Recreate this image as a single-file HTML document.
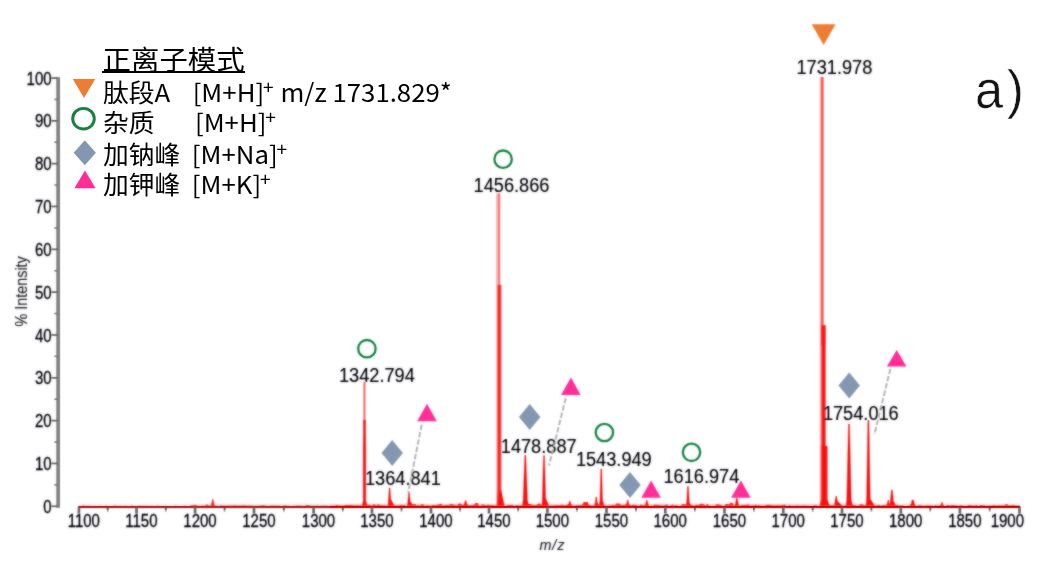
<!DOCTYPE html>
<html lang="zh"><head><meta charset="utf-8"><title>MALDI spectrum</title>
<style>
html,body{margin:0;padding:0;background:#fff;}
body{width:1048px;height:584px;position:relative;overflow:hidden;font-family:"Liberation Sans","Noto Sans CJK SC",sans-serif;}
svg{position:absolute;left:0;top:0;}
.tk{font-family:"Liberation Sans",sans-serif;font-size:15.0px;fill:#26262e;stroke:#26262e;stroke-width:0.22px;}
.pk{font-family:"Liberation Sans",sans-serif;font-size:18.2px;fill:#26262c;stroke:#2a2a32;stroke-width:0.1px;}
.ax{font-family:"Liberation Sans",sans-serif;font-size:14.4px;fill:#404048;stroke:#404048;stroke-width:0.1px;}
.lg{position:absolute;left:103.2px;white-space:pre;color:#000;font-family:"Noto Sans CJK SC","Liberation Sans",sans-serif;font-size:25.6px;line-height:30px;transform:scale(1.008,0.965);transform-origin:0 100%;}
.lg sup{font-size:0.74em;line-height:0;vertical-align:baseline;position:relative;top:-0.40em;margin-left:-1.2px;}
.ttl{font-size:28.4px;line-height:30px;transform:scale(1,0.953);transform-origin:0 100%;}
.ul{position:absolute;left:101.9px;top:70.9px;width:143px;height:2.4px;background:#000;}
.fig{position:absolute;left:974.8px;top:58.7px;font-family:"Liberation Sans",sans-serif;font-size:54px;line-height:60px;color:#141414;-webkit-text-stroke:0.5px #fff;letter-spacing:4.2px;transform:scale(0.935,1);transform-origin:0 0;}
</style></head><body>
<svg width="1048" height="584" viewBox="0 0 1048 584">
<defs><filter id="b" x="-5%" y="-20%" width="110%" height="140%"><feGaussianBlur stdDeviation="0.8" result="g"/><feComposite in="g" in2="SourceGraphic" operator="arithmetic" k1="0" k2="0.7" k3="0.5" k4="0"/></filter>
<filter id="b2" x="-5%" y="-5%" width="110%" height="110%"><feGaussianBlur stdDeviation="0.8" result="g"/><feComposite in="g" in2="SourceGraphic" operator="arithmetic" k1="0" k2="0.5" k3="0.5" k4="0"/></filter></defs>
<g filter="url(#b2)">
<rect x="56.3" y="77.2" width="3.7" height="430.6" fill="#808080"/><rect x="51.4" y="505.4" width="6.5" height="1.7" fill="#606060"/><rect x="54.4" y="484.1" width="3" height="1.5" fill="#707070"/><rect x="51.4" y="462.6" width="6.5" height="1.7" fill="#606060"/><rect x="54.4" y="441.3" width="3" height="1.5" fill="#707070"/><rect x="51.4" y="419.8" width="6.5" height="1.7" fill="#606060"/><rect x="54.4" y="398.5" width="3" height="1.5" fill="#707070"/><rect x="51.4" y="377.0" width="6.5" height="1.7" fill="#606060"/><rect x="54.4" y="355.6" width="3" height="1.5" fill="#707070"/><rect x="51.4" y="334.1" width="6.5" height="1.7" fill="#606060"/><rect x="54.4" y="312.8" width="3" height="1.5" fill="#707070"/><rect x="51.4" y="291.3" width="6.5" height="1.7" fill="#606060"/><rect x="54.4" y="270.0" width="3" height="1.5" fill="#707070"/><rect x="51.4" y="248.5" width="6.5" height="1.7" fill="#606060"/><rect x="54.4" y="227.2" width="3" height="1.5" fill="#707070"/><rect x="51.4" y="205.6" width="6.5" height="1.7" fill="#606060"/><rect x="54.4" y="184.3" width="3" height="1.5" fill="#707070"/><rect x="51.4" y="162.8" width="6.5" height="1.7" fill="#606060"/><rect x="54.4" y="141.5" width="3" height="1.5" fill="#707070"/><rect x="51.4" y="120.0" width="6.5" height="1.7" fill="#606060"/><rect x="54.4" y="98.7" width="3" height="1.5" fill="#707070"/><rect x="51.4" y="77.2" width="6.5" height="1.7" fill="#606060"/>
</g>
<g filter="url(#b2)">
<rect x="363.4" y="382.0" width="2.1" height="42.0" fill="#f96a6a"/><rect x="496.0" y="193.6" width="2.0" height="312.4" fill="#fcb8b8"/><rect x="498.0" y="193.4" width="2.2" height="92.6" fill="#f87474"/><rect x="500.2" y="285.0" width="1.8" height="215.0" fill="#fcc4c4"/><rect x="819.7" y="77.0" width="1.2" height="429.0" fill="#fbb4b4"/><rect x="820.9" y="77.0" width="2.8" height="249.0" fill="#f85c5c"/><rect x="820.9" y="325.4" width="4.7" height="19.6" fill="#f85454"/><rect x="825.3" y="326.0" width="0.9" height="121.0" fill="#fbb4b4"/><rect x="827.2" y="447.0" width="0.8" height="53.0" fill="#fbb4b4"/>
<rect x="78.5" y="504.1" width="111.5" height="2" fill="#ff2a2a" opacity="0.10"/><rect x="190.0" y="504.1" width="140.0" height="2" fill="#ff2a2a" opacity="0.16"/><rect x="330.0" y="504.1" width="20.0" height="2" fill="#ff2a2a" opacity="0.22"/><rect x="350.0" y="504.1" width="510.0" height="2" fill="#ff2a2a" opacity="0.28"/><rect x="860.0" y="504.1" width="75.0" height="2" fill="#ff2a2a" opacity="0.22"/><rect x="935.0" y="504.1" width="85.0" height="2" fill="#ff2a2a" opacity="0.16"/>
<path d="M79,506 L79.5,505.9 L81.1,505.9 L82.6,505.4 L84.0,505.4 L85.1,505.7 L86.2,505.7 L88.1,505.8 L89.6,505.8 L90.6,505.8 L91.8,505.9 L93.0,506.0 L94.1,505.7 L95.7,505.9 L97.6,505.9 L99.6,505.7 L101.3,505.7 L102.5,506.0 L103.7,505.9 L105.5,505.8 L107.3,505.8 L109.1,506.0 L110.8,505.9 L112.6,505.9 L114.5,505.6 L116.2,505.6 L117.3,505.9 L118.2,505.9 L119.3,505.8 L121.3,505.8 L122.4,505.9 L124.7,505.7 L126.0,505.7 L128.2,505.9 L129.3,505.9 L130.6,505.8 L131.4,505.8 L133.0,505.7 L135.3,505.9 L136.4,506.0 L138.6,505.8 L140.3,505.8 L141.4,505.7 L142.7,505.7 L143.7,505.8 L144.6,505.8 L146.8,505.8 L147.9,505.8 L149.4,505.9 L151.1,505.8 L152.0,505.8 L153.5,505.9 L155.6,505.9 L157.4,505.6 L158.4,505.8 L159.8,505.9 L161.7,505.9 L163.4,505.8 L165.8,506.0 L167.9,505.9 L168.8,505.9 L169.8,505.9 L171.6,505.9 L173.9,505.9 L175.4,505.7 L176.5,505.7 L177.8,506.0 L179.5,506.0 L181.6,506.0 L183.9,505.8 L185.8,505.8 L187.3,505.9 L188.8,505.9 L189.8,505.9 L191.0,505.3 L192.2,505.3 L193.8,505.3 L195.0,504.5 L196.7,505.4 L198.0,505.8 L199.1,505.8 L201.0,505.7 L202.5,505.4 L204.7,505.8 L206.5,504.6 L207.3,504.6 L209.4,505.5 L210.8,505.4 L212.9,505.4 L214.8,505.4 L216.5,505.5 L218.8,506.0 L220.8,505.5 L222.4,505.3 L223.8,505.8 L226.0,505.6 L227.1,505.6 L228.2,505.6 L230.5,505.4 L232.5,505.4 L234.9,505.3 L236.4,505.5 L237.8,505.5 L239.5,505.6 L240.8,505.6 L242.8,505.3 L244.1,505.3 L245.9,505.6 L248.1,505.6 L250.2,505.5 L252.1,505.5 L253.5,505.7 L255.6,505.7 L257.7,505.7 L259.7,505.5 L261.5,505.5 L263.1,505.1 L264.2,505.4 L266.2,505.4 L267.8,505.9 L268.8,505.9 L270.5,505.4 L271.6,505.4 L272.6,505.6 L274.0,505.4 L275.3,505.4 L276.3,505.7 L277.6,505.6 L278.8,505.5 L280.3,505.9 L282.7,506.0 L284.3,505.2 L285.2,505.2 L286.3,505.7 L288.3,505.7 L290.5,505.9 L291.7,505.9 L293.1,505.8 L295.2,505.8 L297.6,505.6 L299.7,505.6 L301.2,505.7 L302.7,505.7 L304.0,505.7 L305.1,505.7 L306.3,505.1 L307.9,505.1 L309.6,505.6 L311.6,505.5 L312.8,505.9 L313.9,505.4 L316.0,505.8 L317.7,505.4 L320.0,505.9 L321.3,505.5 L323.3,505.5 L325.1,505.6 L327.0,505.7 L328.7,505.7 L329.8,505.7 L331.6,505.7 L332.9,505.8 L334.6,505.8 L336.5,505.1 L337.5,505.1 L338.8,505.5 L339.7,505.5 L341.1,505.8 L343.0,505.6 L344.0,505.6 L346.3,504.9 L348.6,505.0 L350.2,505.1 L352.3,505.1 L353.6,505.5 L354.8,505.4 L357.0,505.3 L357.9,505.3 L358.9,505.6 L360.1,505.6 L361.3,505.5 L363.2,505.5 L365.3,504.7 L367.3,504.7 L369.5,504.7 L371.3,505.5 L372.5,505.5 L373.6,504.1 L375.0,504.4 L376.2,505.6 L378.1,504.0 L379.9,505.2 L381.7,505.2 L383.6,505.4 L385.7,505.4 L386.9,505.8 L389.3,505.1 L390.7,505.8 L391.8,505.8 L394.0,505.4 L396.1,505.4 L398.5,505.5 L399.8,505.5 L400.9,505.1 L402.5,505.1 L404.8,505.2 L406.3,505.9 L407.5,505.9 L409.8,504.6 L411.1,504.6 L412.5,504.6 L414.1,503.9 L415.0,503.9 L417.0,505.5 L418.6,505.5 L419.6,505.6 L421.9,504.2 L423.0,504.2 L424.7,505.8 L426.8,505.4 L427.8,505.1 L429.2,505.7 L430.9,505.7 L432.9,505.0 L434.4,505.0 L435.5,505.4 L437.7,504.5 L438.8,504.5 L441.2,503.4 L442.8,505.7 L445.1,505.1 L446.8,505.1 L448.1,505.0 L449.8,504.7 L451.1,503.5 L452.5,504.4 L453.9,504.4 L455.9,505.4 L457.2,505.4 L458.5,503.6 L460.6,503.6 L462.8,505.2 L465.1,505.4 L466.2,504.8 L467.5,504.8 L468.9,505.2 L471.1,505.2 L472.3,505.1 L473.6,505.1 L475.7,503.0 L477.8,503.0 L479.1,505.8 L480.1,505.8 L481.0,505.8 L482.0,504.5 L483.9,504.5 L486.1,505.5 L487.5,504.7 L488.7,504.7 L489.7,505.1 L490.7,505.3 L492.9,505.3 L495.2,505.6 L497.3,505.6 L498.6,504.8 L500.7,505.0 L502.0,505.0 L504.1,505.9 L506.0,505.9 L507.3,505.0 L509.5,505.0 L511.7,505.1 L512.6,505.1 L513.8,505.8 L515.2,505.8 L517.0,505.2 L519.2,505.4 L520.8,505.4 L522.3,505.5 L523.5,505.5 L524.8,504.4 L526.2,504.4 L528.6,504.0 L530.5,504.0 L532.4,504.9 L534.6,505.2 L535.8,505.2 L537.0,504.5 L538.5,503.5 L539.7,503.5 L541.7,504.9 L543.1,505.3 L544.1,505.3 L545.5,506.0 L546.8,506.0 L548.7,505.7 L549.8,505.7 L551.9,505.4 L553.5,505.4 L555.4,505.2 L557.1,505.2 L558.7,505.3 L560.3,505.3 L561.8,504.6 L564.2,505.5 L565.0,505.5 L567.3,504.8 L568.8,504.6 L570.4,504.6 L572.3,505.7 L574.0,505.7 L575.5,505.6 L577.8,505.2 L579.7,505.2 L582.1,505.1 L583.8,502.1 L585.8,502.1 L587.7,505.0 L589.1,505.0 L591.2,505.5 L592.3,505.5 L593.9,505.8 L595.7,505.8 L598.0,503.2 L599.0,505.0 L600.9,505.5 L602.5,505.5 L604.1,505.6 L605.8,505.6 L607.5,505.8 L609.6,505.6 L610.5,505.6 L612.1,505.1 L613.7,505.1 L614.7,505.4 L616.4,503.4 L618.6,503.4 L619.8,503.8 L621.0,505.1 L623.2,505.1 L625.4,504.6 L626.7,504.6 L628.8,504.2 L630.2,505.0 L631.5,505.5 L632.9,504.8 L634.9,505.1 L636.8,505.1 L637.9,505.9 L639.7,505.4 L640.9,504.2 L642.2,505.2 L643.7,505.1 L644.8,505.9 L646.5,505.9 L648.9,506.0 L649.7,506.0 L650.9,505.7 L652.4,505.7 L654.7,504.8 L655.5,504.8 L657.0,504.8 L658.1,504.8 L659.9,505.6 L660.9,505.6 L663.2,505.4 L664.2,505.4 L666.1,504.4 L666.9,504.4 L668.8,506.0 L670.5,506.0 L672.1,504.2 L673.2,505.6 L674.3,505.6 L675.4,505.2 L676.6,505.3 L678.3,506.0 L679.5,506.0 L680.6,505.9 L682.6,503.9 L684.4,503.9 L686.0,505.1 L687.2,505.1 L688.2,505.7 L690.2,504.2 L691.8,505.0 L694.2,506.0 L695.2,505.2 L697.2,504.7 L698.7,505.1 L700.6,503.7 L702.6,503.7 L704.6,504.7 L706.0,505.7 L707.1,503.6 L708.6,505.4 L709.5,505.4 L711.4,505.9 L713.1,505.9 L714.6,506.0 L716.8,503.9 L718.0,504.6 L718.8,504.6 L721.0,504.8 L722.4,505.9 L724.3,505.9 L725.6,504.0 L727.4,504.0 L728.9,504.5 L730.6,502.8 L732.5,502.8 L734.0,505.9 L735.3,505.0 L736.1,505.0 L737.3,505.4 L738.3,506.0 L739.8,506.0 L741.3,505.1 L743.4,505.1 L744.8,504.9 L746.5,504.9 L747.6,504.2 L749.7,505.6 L751.8,505.6 L752.9,505.6 L754.0,505.6 L755.4,504.5 L756.7,505.6 L758.8,505.2 L759.8,505.2 L762.0,505.9 L763.2,505.7 L764.6,505.7 L766.9,504.7 L768.1,504.7 L770.1,505.0 L771.3,505.0 L773.1,505.5 L774.1,505.5 L776.5,505.2 L777.8,505.2 L780.2,505.5 L781.8,504.9 L783.2,504.9 L784.2,504.3 L786.2,505.9 L787.8,505.9 L789.4,505.2 L791.0,505.8 L792.8,505.8 L795.0,505.7 L797.2,505.6 L798.9,505.6 L800.1,506.0 L802.1,505.5 L803.7,505.5 L805.3,505.5 L806.6,505.8 L808.7,505.8 L809.8,505.9 L811.7,505.9 L814.0,505.5 L816.0,505.2 L818.1,505.9 L819.9,505.9 L821.5,505.3 L823.6,505.3 L825.1,504.7 L826.5,504.7 L828.1,505.0 L829.3,505.0 L830.6,505.3 L832.5,505.3 L834.1,505.2 L835.9,505.2 L838.1,505.7 L840.2,505.7 L841.7,505.7 L843.9,505.7 L845.8,505.7 L847.3,505.1 L848.7,505.1 L850.0,503.2 L851.2,503.2 L852.6,505.0 L854.3,505.0 L856.2,505.8 L858.2,505.8 L860.4,504.3 L862.4,504.3 L864.3,505.2 L865.6,505.3 L866.8,505.3 L868.8,505.5 L870.1,505.0 L872.2,505.9 L873.4,505.6 L875.5,505.6 L876.6,505.6 L877.8,504.9 L879.3,504.9 L880.5,506.0 L881.5,505.3 L883.1,505.3 L885.0,505.0 L886.1,505.8 L887.1,506.0 L889.3,506.0 L891.0,505.9 L892.1,505.5 L893.6,505.9 L895.7,505.2 L897.8,504.7 L899.4,505.8 L901.3,505.3 L902.5,505.3 L904.0,506.0 L905.8,506.0 L908.0,505.7 L909.2,505.7 L910.2,504.8 L912.3,504.1 L914.2,505.9 L915.5,505.9 L917.4,505.9 L918.5,505.2 L920.4,505.2 L922.5,505.7 L923.8,505.7 L925.4,505.5 L926.5,505.5 L928.3,505.4 L929.1,505.4 L930.6,505.6 L932.0,505.6 L933.2,506.0 L934.2,506.0 L935.2,504.8 L936.3,505.5 L937.1,505.5 L939.1,505.4 L941.0,505.4 L943.0,504.8 L944.1,505.9 L945.5,506.0 L946.5,504.9 L947.7,504.9 L949.8,505.4 L951.5,505.1 L953.2,505.1 L954.4,505.3 L956.1,505.3 L958.0,505.8 L960.1,505.3 L961.0,505.3 L963.3,505.7 L965.7,505.8 L967.1,505.7 L969.0,505.1 L970.4,505.1 L972.5,505.5 L974.5,505.5 L976.6,505.1 L978.7,505.9 L980.2,505.0 L982.1,505.0 L984.4,505.2 L986.3,505.8 L988.4,505.4 L990.4,505.4 L992.5,505.4 L994.2,504.9 L995.5,505.4 L997.0,505.4 L998.6,505.2 L999.5,505.2 L1001.9,505.6 L1003.1,505.3 L1004.6,505.3 L1005.6,504.2 L1007.2,504.2 L1008.6,505.2 L1010.7,505.2 L1012.8,505.0 L1013.9,505.0 L1015.1,505.5 L1016.7,505.5 L1018.9,505.5 L1020.6,505.5 L1019.5,506 Z" fill="#fc2222"/>
<path d="M210.9,506.0 L211.7,504.0 L212.5,499.6 L213.2,499.6 L213.9,504.0 L214.7,506.0 Z M362.2,506.0 L363.2,501.0 L363.2,450.0 L363.5,420.0 L365.5,420.0 L365.8,450.0 L365.8,501.0 L367.2,506.0 Z M388.0,506.0 L388.5,499.0 L389.2,488.0 L390.0,488.0 L390.7,499.0 L394.2,506.0 Z M407.4,506.0 L407.9,501.0 L408.6,492.5 L409.4,492.5 L410.1,501.0 L413.1,506.0 Z M462.9,506.0 L464.4,504.0 L465.2,500.8 L466.0,500.8 L466.8,504.0 L468.3,506.0 Z M497.0,506.0 L497.8,489.0 L497.8,285.0 L497.8,285.0 L500.8,285.0 L500.8,285.0 L500.8,489.0 L504.4,506.0 Z M522.4,506.0 L523.2,500.0 L524.8,455.5 L525.8,455.5 L527.4,500.0 L528.8,506.0 Z M541.9,506.0 L542.4,498.0 L543.5,455.5 L544.5,455.5 L545.6,498.0 L548.8,506.0 Z M567.3,506.0 L568.8,504.0 L569.4,501.2 L570.1,501.2 L570.8,504.0 L572.3,506.0 Z M584.5,506.0 L586.0,504.0 L586.6,502.0 L587.4,502.0 L588.0,504.0 L589.5,506.0 Z M594.3,506.0 L595.3,503.0 L595.9,497.0 L596.6,497.0 L597.3,503.0 L598.3,506.0 Z M599.2,506.0 L600.0,500.0 L600.8,469.0 L601.7,469.0 L602.5,500.0 L604.2,506.0 Z M625.5,506.0 L626.7,504.0 L627.4,500.2 L628.1,500.2 L628.7,504.0 L629.9,506.0 Z M644.5,506.0 L645.7,504.0 L646.4,500.2 L647.1,500.2 L647.9,504.0 L649.1,506.0 Z M686.0,506.0 L686.8,502.0 L687.5,486.6 L688.5,486.6 L689.2,502.0 L690.5,506.0 Z M734.7,506.0 L735.7,503.0 L736.5,497.4 L737.2,497.4 L738.1,503.0 L739.1,506.0 Z M820.9,506.0 L821.3,503.0 L821.3,325.4 L821.3,325.4 L825.3,325.4 L825.3,325.4 L825.3,503.0 L825.7,506.0 Z M820.0,506.0 L821.2,499.0 L821.2,446.0 L821.2,446.0 L827.2,446.0 L827.2,446.0 L827.2,499.0 L829.4,506.0 Z M834.5,506.0 L835.1,501.0 L835.9,496.3 L836.6,496.3 L837.3,501.0 L842.3,506.0 Z M845.8,506.0 L846.8,500.0 L848.5,424.0 L849.5,424.0 L851.2,500.0 L852.7,506.0 Z M866.0,506.0 L866.6,499.0 L867.9,420.5 L868.9,420.5 L870.2,499.0 L874.7,506.0 Z M886.0,506.0 L887.2,504.0 L887.9,500.3 L888.6,500.3 L889.2,504.0 L890.2,506.0 Z M889.4,506.0 L890.4,501.0 L891.4,490.0 L892.4,490.0 L893.4,501.0 L895.9,506.0 Z M910.3,506.0 L911.3,504.0 L912.0,500.0 L913.5,500.0 L914.3,504.0 L916.3,506.0 Z M939.5,506.0 L941.0,505.0 L941.6,502.6 L942.4,502.6 L943.0,505.0 L944.5,506.0 Z" fill="#fb1010" stroke="#fb1010" stroke-width="0.4" stroke-linejoin="round"/>
</g>
<rect x="78.2" y="507.8" width="942" height="1" fill="#d9c6c6"/><rect x="78.2" y="505.9" width="252" height="2" fill="#b32c2c"/><rect x="330" y="505.9" width="690.2" height="2" fill="#c20a0a"/>
<g filter="url(#b2)">
<rect x="77.6" y="507.2" width="2.6" height="6.3" fill="#626262"/><rect x="106.8" y="507.6" width="1.8" height="2.8" fill="#483c3c"/><rect x="106.8" y="510.4" width="1.8" height="1.4" fill="#b0a8a8"/><rect x="135.2" y="507.2" width="2.6" height="6.3" fill="#626262"/><rect x="164.9" y="507.6" width="1.8" height="2.8" fill="#483c3c"/><rect x="164.9" y="510.4" width="1.8" height="1.4" fill="#b0a8a8"/><rect x="193.8" y="507.2" width="2.6" height="6.3" fill="#626262"/><rect x="223.7" y="507.6" width="1.8" height="2.8" fill="#483c3c"/><rect x="223.7" y="510.4" width="1.8" height="1.4" fill="#b0a8a8"/><rect x="252.7" y="507.2" width="2.6" height="6.3" fill="#626262"/><rect x="282.9" y="507.6" width="1.8" height="2.8" fill="#483c3c"/><rect x="282.9" y="510.4" width="1.8" height="1.4" fill="#b0a8a8"/><rect x="312.3" y="507.2" width="2.6" height="6.3" fill="#626262"/><rect x="341.9" y="507.6" width="1.8" height="2.8" fill="#483c3c"/><rect x="341.9" y="510.4" width="1.8" height="1.4" fill="#b0a8a8"/><rect x="370.7" y="507.2" width="2.6" height="6.3" fill="#626262"/><rect x="400.6" y="507.6" width="1.8" height="2.8" fill="#483c3c"/><rect x="400.6" y="510.4" width="1.8" height="1.4" fill="#b0a8a8"/><rect x="429.7" y="507.2" width="2.6" height="6.3" fill="#626262"/><rect x="459.1" y="507.6" width="1.8" height="2.8" fill="#483c3c"/><rect x="459.1" y="510.4" width="1.8" height="1.4" fill="#b0a8a8"/><rect x="487.7" y="507.2" width="2.6" height="6.3" fill="#626262"/><rect x="517.3" y="507.6" width="1.8" height="2.8" fill="#483c3c"/><rect x="517.3" y="510.4" width="1.8" height="1.4" fill="#b0a8a8"/><rect x="546.1" y="507.2" width="2.6" height="6.3" fill="#626262"/><rect x="576.1" y="507.6" width="1.8" height="2.8" fill="#483c3c"/><rect x="576.1" y="510.4" width="1.8" height="1.4" fill="#b0a8a8"/><rect x="605.2" y="507.2" width="2.6" height="6.3" fill="#626262"/><rect x="635.0" y="507.6" width="1.8" height="2.8" fill="#483c3c"/><rect x="635.0" y="510.4" width="1.8" height="1.4" fill="#b0a8a8"/><rect x="664.0" y="507.2" width="2.6" height="6.3" fill="#626262"/><rect x="694.0" y="507.6" width="1.8" height="2.8" fill="#483c3c"/><rect x="694.0" y="510.4" width="1.8" height="1.4" fill="#b0a8a8"/><rect x="723.2" y="507.2" width="2.6" height="6.3" fill="#626262"/><rect x="753.0" y="507.6" width="1.8" height="2.8" fill="#483c3c"/><rect x="753.0" y="510.4" width="1.8" height="1.4" fill="#b0a8a8"/><rect x="782.0" y="507.2" width="2.6" height="6.3" fill="#626262"/><rect x="811.8" y="507.6" width="1.8" height="2.8" fill="#483c3c"/><rect x="811.8" y="510.4" width="1.8" height="1.4" fill="#b0a8a8"/><rect x="840.7" y="507.2" width="2.6" height="6.3" fill="#626262"/><rect x="870.5" y="507.6" width="1.8" height="2.8" fill="#483c3c"/><rect x="870.5" y="510.4" width="1.8" height="1.4" fill="#b0a8a8"/><rect x="899.5" y="507.2" width="2.6" height="6.3" fill="#626262"/><rect x="929.4" y="507.6" width="1.8" height="2.8" fill="#483c3c"/><rect x="929.4" y="510.4" width="1.8" height="1.4" fill="#b0a8a8"/><rect x="958.6" y="507.2" width="2.6" height="6.3" fill="#626262"/><rect x="988.8" y="507.6" width="1.8" height="2.8" fill="#483c3c"/><rect x="988.8" y="510.4" width="1.8" height="1.4" fill="#b0a8a8"/><rect x="1018.2" y="507.2" width="2.6" height="6.3" fill="#626262"/>
</g>
<g filter="url(#b2)">
<circle cx="366.9" cy="348.7" r="8.7" fill="none" stroke="#1c8244" stroke-width="2.3"/><circle cx="503.1" cy="159.2" r="8.7" fill="none" stroke="#1c8244" stroke-width="2.3"/><circle cx="604.4" cy="432.5" r="8.7" fill="none" stroke="#1c8244" stroke-width="2.3"/><circle cx="691.5" cy="452.3" r="8.7" fill="none" stroke="#1c8244" stroke-width="2.3"/><polygon points="392.2,440.0 402.9,453.0 392.2,466.0 381.5,453.0" fill="#8497b0"/><polygon points="529.7,404.1 540.4,417.1 529.7,430.1 519.0,417.1" fill="#8497b0"/><polygon points="630.0,472.0 640.7,485.0 630.0,498.0 619.3,485.0" fill="#8497b0"/><polygon points="849.2,372.4 859.9,385.4 849.2,398.4 838.5,385.4" fill="#8497b0"/><polygon points="427.0,403.8 436.8,421.3 417.2,421.3" fill="#ff2e97"/><polygon points="570.9,377.5 580.7,395.0 561.1,395.0" fill="#ff2e97"/><polygon points="651.1,480.4 660.9,497.8 641.3,497.8" fill="#ff2e97"/><polygon points="740.9,480.4 750.7,497.8 731.1,497.8" fill="#ff2e97"/><polygon points="896.7,349.9 906.5,366.6 886.9,366.6" fill="#ff2e97"/><polygon points="811.7,24.3 835.6,24.3 823.6,44.9" fill="#ed7d31"/>
</g>
<g filter="url(#b)">
<text class="tk" text-anchor="end" transform="translate(51.6,512.9) scale(1,1.17)">0</text><text class="tk" text-anchor="end" transform="translate(51.6,470.1) scale(1,1.17)">10</text><text class="tk" text-anchor="end" transform="translate(51.6,427.2) scale(1,1.17)">20</text><text class="tk" text-anchor="end" transform="translate(51.6,384.4) scale(1,1.17)">30</text><text class="tk" text-anchor="end" transform="translate(51.6,341.6) scale(1,1.17)">40</text><text class="tk" text-anchor="end" transform="translate(51.6,298.8) scale(1,1.17)">50</text><text class="tk" text-anchor="end" transform="translate(51.6,255.9) scale(1,1.17)">60</text><text class="tk" text-anchor="end" transform="translate(51.6,213.1) scale(1,1.17)">70</text><text class="tk" text-anchor="end" transform="translate(51.6,170.3) scale(1,1.17)">80</text><text class="tk" text-anchor="end" transform="translate(51.6,127.4) scale(1,1.17)">90</text><text class="tk" text-anchor="end" transform="translate(51.6,84.6) scale(1,1.17)">100</text><text class="tk" text-anchor="middle" transform="translate(83.8,527.3) scale(1,1.22)">1100</text><text class="tk" text-anchor="middle" transform="translate(141.4,527.3) scale(1,1.22)">1150</text><text class="tk" text-anchor="middle" transform="translate(200.0,527.3) scale(1,1.22)">1200</text><text class="tk" text-anchor="middle" transform="translate(258.9,527.3) scale(1,1.22)">1250</text><text class="tk" text-anchor="middle" transform="translate(318.5,527.3) scale(1,1.22)">1300</text><text class="tk" text-anchor="middle" transform="translate(376.9,527.3) scale(1,1.22)">1350</text><text class="tk" text-anchor="middle" transform="translate(435.9,527.3) scale(1,1.22)">1400</text><text class="tk" text-anchor="middle" transform="translate(493.9,527.3) scale(1,1.22)">1450</text><text class="tk" text-anchor="middle" transform="translate(552.3,527.3) scale(1,1.22)">1500</text><text class="tk" text-anchor="middle" transform="translate(611.4,527.3) scale(1,1.22)">1550</text><text class="tk" text-anchor="middle" transform="translate(670.2,527.3) scale(1,1.22)">1600</text><text class="tk" text-anchor="middle" transform="translate(729.4,527.3) scale(1,1.22)">1650</text><text class="tk" text-anchor="middle" transform="translate(788.2,527.3) scale(1,1.22)">1700</text><text class="tk" text-anchor="middle" transform="translate(846.9,527.3) scale(1,1.22)">1750</text><text class="tk" text-anchor="middle" transform="translate(905.7,527.3) scale(1,1.22)">1800</text><text class="tk" text-anchor="middle" transform="translate(964.8,527.3) scale(1,1.22)">1850</text><text class="tk" text-anchor="end" transform="translate(1024.0,527.3) scale(1,1.22)">1900</text><text class="pk" text-anchor="middle" transform="translate(376.9,381.5) scale(1,1.09)">1342.794</text><text class="pk" text-anchor="middle" transform="translate(402.9,485.1) scale(1,1.09)">1364.841</text><text class="pk" text-anchor="middle" transform="translate(511.5,191.8) scale(1,1.09)">1456.866</text><text class="pk" text-anchor="middle" transform="translate(538.7,452.8) scale(1,1.09)">1478.887</text><text class="pk" text-anchor="middle" transform="translate(613.8,466.3) scale(1,1.09)">1543.949</text><text class="pk" text-anchor="middle" transform="translate(701.4,482.5) scale(1,1.09)">1616.974</text><text class="pk" text-anchor="middle" transform="translate(834.4,73.8) scale(1,1.09)">1731.978</text><text class="pk" text-anchor="middle" transform="translate(860.8,419.7) scale(1,1.09)">1754.016</text>
<text class="ax" text-anchor="middle" transform="translate(27.3,291.4) rotate(-90) scale(1,1.12)">% Intensity</text>
<text class="ax" text-anchor="middle" font-style="italic" font-size="15.6" x="552.4" y="550.4" letter-spacing="0.9">m/z</text>
</g>
<g filter="url(#b2)"><line x1="421.7" y1="424.6" x2="408.2" y2="492.5" stroke="#b2b2b2" stroke-width="1.9" stroke-dasharray="5.5 2"/><line x1="565.8" y1="398.0" x2="549.0" y2="465.4" stroke="#b2b2b2" stroke-width="1.9" stroke-dasharray="5.5 2"/><line x1="890.4" y1="368.7" x2="874.4" y2="434.6" stroke="#b2b2b2" stroke-width="1.9" stroke-dasharray="5.5 2"/></g>
</svg>
<div class="lg ttl" style="top:42.5px;left:102.6px;">正离子模式</div><div class="ul"></div>
<div class="lg" style="top:76px;">肽段A<span style="margin-left:22.2px">[M+H]</span><sup>+</sup><span style="margin-left:6.8px">m/z 1731.829*</span></div>
<div class="lg" style="top:105.6px;">杂质<span style="margin-left:40px">[M+H]</span><sup>+</sup></div>
<div class="lg" style="top:137.8px;">加钠峰<span style="margin-left:11.3px">[M+Na]</span><sup>+</sup></div>
<div class="lg" style="top:167.9px;">加钾峰<span style="margin-left:11.3px">[M+K]</span><sup>+</sup></div>
<svg width="1048" height="584" viewBox="0 0 1048 584" style="pointer-events:none"><defs><filter id="b3"><feGaussianBlur stdDeviation="0.4"/></filter></defs>
<g filter="url(#b3)"><polygon points="72.8,79 95.2,79 84,98" fill="#ed7d31"/>
<ellipse cx="83.5" cy="118.7" rx="10.8" ry="10.3" fill="none" stroke="#14803f" stroke-width="2.9"/>
<polygon points="84.8,140.3 95.9,152.8 84.8,165.3 73.7,152.8" fill="#8497b0"/>
<polygon points="85,170.4 95.6,188.2 74.4,188.2" fill="#ff2e97"/></g>
</svg>
<div class="fig">a)</div>
</body></html>
